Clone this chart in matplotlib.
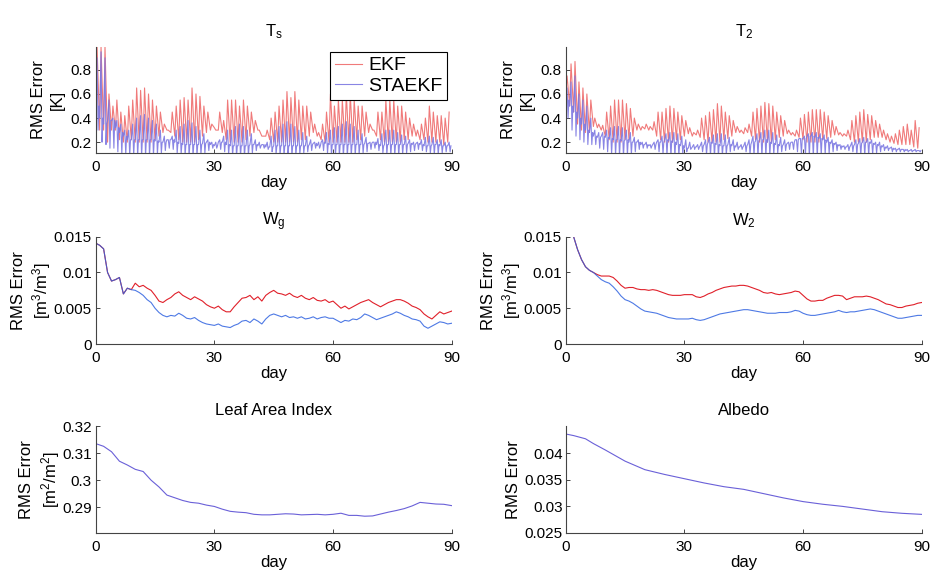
import numpy as np
import matplotlib
matplotlib.use('Agg')
import matplotlib.pyplot as plt

plt.rcParams['font.family'] = ['Liberation Sans', 'DejaVu Sans']
plt.rcParams['mathtext.default'] = 'regular'

# ---- T_s : daily values (days 0..89) ----
ts_ekf_base = [0.55, 0.30, 0.30, 0.20, 0.30, 0.30, 0.22, 0.20, 0.20, 0.22,
               0.20, 0.20, 0.20, 0.20, 0.20, 0.22, 0.25, 0.28, 0.30, 0.28,
               0.25, 0.22, 0.20, 0.20, 0.20, 0.20, 0.22, 0.25, 0.28, 0.30,
               0.32, 0.30, 0.28, 0.22, 0.20, 0.20, 0.20, 0.20, 0.22, 0.25,
               0.28, 0.30, 0.25, 0.25, 0.22, 0.20, 0.20, 0.20, 0.20, 0.20,
               0.20, 0.20, 0.22, 0.22, 0.25, 0.28, 0.25, 0.22, 0.20, 0.20,
               0.20, 0.20, 0.20, 0.20, 0.20, 0.20, 0.22, 0.22, 0.25, 0.28,
               0.30, 0.25, 0.22, 0.20, 0.20, 0.20, 0.20, 0.20, 0.22, 0.22,
               0.25, 0.25, 0.22, 0.22, 0.20, 0.20, 0.20, 0.20, 0.18, 0.20]
ts_ekf_peak = [0.99, 0.99, 0.99, 0.60, 0.50, 0.55, 0.45, 0.42, 0.50, 0.55,
               0.65, 0.63, 0.65, 0.60, 0.55, 0.50, 0.45, 0.35, 0.30, 0.45,
               0.50, 0.55, 0.57, 0.55, 0.65, 0.60, 0.58, 0.50, 0.45, 0.35,
               0.30, 0.45, 0.38, 0.55, 0.55, 0.55, 0.50, 0.55, 0.50, 0.45,
               0.38, 0.30, 0.25, 0.30, 0.40, 0.45, 0.50, 0.55, 0.62, 0.57,
               0.62, 0.55, 0.50, 0.50, 0.45, 0.35, 0.28, 0.35, 0.45, 0.60,
               0.50, 0.55, 0.55, 0.60, 0.60, 0.55, 0.50, 0.50, 0.45, 0.35,
               0.30, 0.45, 0.45, 0.55, 0.55, 0.55, 0.50, 0.50, 0.45, 0.40,
               0.35, 0.30, 0.35, 0.40, 0.50, 0.45, 0.42, 0.42, 0.40, 0.45]
ts_sta_base = [0.50, 0.40, 0.35, 0.38, 0.38, 0.32, 0.28, 0.25, 0.22, 0.22,
               0.22, 0.22, 0.22, 0.22, 0.22, 0.21, 0.20, 0.20, 0.22, 0.22,
               0.20, 0.19, 0.18, 0.18, 0.18, 0.18, 0.18, 0.19, 0.20, 0.18,
               0.17, 0.20, 0.20, 0.18, 0.17, 0.17, 0.17, 0.17, 0.17, 0.18,
               0.18, 0.17, 0.18, 0.16, 0.16, 0.17, 0.17, 0.17, 0.17, 0.17,
               0.17, 0.17, 0.17, 0.17, 0.18, 0.19, 0.17, 0.20, 0.19, 0.18,
               0.18, 0.18, 0.18, 0.18, 0.18, 0.18, 0.18, 0.18, 0.19, 0.19,
               0.20, 0.18, 0.17, 0.18, 0.18, 0.18, 0.18, 0.18, 0.18, 0.19,
               0.18, 0.19, 0.18, 0.17, 0.17, 0.18, 0.18, 0.17, 0.17, 0.17]
ts_sta_peak = [0.90, 0.95, 0.90, 0.55, 0.40, 0.38, 0.35, 0.30, 0.30, 0.35,
               0.40, 0.42, 0.43, 0.40, 0.38, 0.35, 0.30, 0.25, 0.22, 0.25,
               0.30, 0.33, 0.35, 0.38, 0.36, 0.33, 0.30, 0.27, 0.22, 0.20,
               0.20, 0.22, 0.25, 0.30, 0.30, 0.33, 0.35, 0.33, 0.30, 0.27,
               0.22, 0.20, 0.18, 0.20, 0.25, 0.30, 0.33, 0.35, 0.37, 0.35,
               0.33, 0.30, 0.28, 0.25, 0.22, 0.20, 0.20, 0.22, 0.28, 0.30,
               0.32, 0.33, 0.35, 0.37, 0.35, 0.33, 0.30, 0.27, 0.24, 0.20,
               0.20, 0.23, 0.27, 0.30, 0.30, 0.30, 0.28, 0.26, 0.25, 0.22,
               0.20, 0.20, 0.22, 0.24, 0.25, 0.24, 0.22, 0.22, 0.20, 0.20]
ts_sta_trough = [0.30, 0.20, 0.18, 0.15, 0.15, 0.12, 0.10, 0.10, 0.09, 0.09,
                 0.08, 0.08, 0.08, 0.08, 0.09, 0.10, 0.11, 0.13, 0.15, 0.14,
                 0.11, 0.10, 0.09, 0.08, 0.08, 0.09, 0.10, 0.11, 0.13, 0.15,
                 0.15, 0.14, 0.12, 0.10, 0.09, 0.08, 0.08, 0.08, 0.09, 0.11,
                 0.13, 0.15, 0.15, 0.14, 0.12, 0.10, 0.09, 0.08, 0.08, 0.08,
                 0.09, 0.10, 0.11, 0.12, 0.13, 0.15, 0.15, 0.13, 0.11, 0.09,
                 0.09, 0.08, 0.08, 0.08, 0.08, 0.09, 0.10, 0.11, 0.12, 0.14,
                 0.15, 0.13, 0.11, 0.10, 0.09, 0.09, 0.09, 0.10, 0.11, 0.12,
                 0.13, 0.14, 0.13, 0.12, 0.11, 0.10, 0.10, 0.11, 0.12, 0.12]

# ---- T_2 ----
t2_ekf_base = [0.60, 0.50, 0.45, 0.35, 0.30, 0.28, 0.28, 0.33, 0.32, 0.30,
               0.25, 0.22, 0.20, 0.20, 0.20, 0.22, 0.22, 0.25, 0.30, 0.30,
               0.31, 0.30, 0.30, 0.25, 0.22, 0.20, 0.20, 0.20, 0.22, 0.22,
               0.25, 0.27, 0.25, 0.26, 0.24, 0.22, 0.20, 0.20, 0.20, 0.20,
               0.22, 0.23, 0.25, 0.28, 0.28, 0.27, 0.28, 0.25, 0.22, 0.20,
               0.20, 0.20, 0.20, 0.22, 0.24, 0.25, 0.27, 0.26, 0.25, 0.24,
               0.22, 0.20, 0.20, 0.20, 0.20, 0.22, 0.23, 0.24, 0.26, 0.26,
               0.25, 0.25, 0.22, 0.20, 0.20, 0.20, 0.20, 0.22, 0.24, 0.24,
               0.24, 0.22, 0.20, 0.19, 0.18, 0.18, 0.18, 0.18, 0.16, 0.15]
t2_ekf_peak = [0.75, 0.85, 0.87, 0.70, 0.65, 0.60, 0.55, 0.40, 0.35, 0.34,
               0.45, 0.50, 0.55, 0.55, 0.55, 0.52, 0.48, 0.40, 0.35, 0.33,
               0.35, 0.33, 0.37, 0.45, 0.45, 0.48, 0.50, 0.48, 0.45, 0.42,
               0.38, 0.32, 0.28, 0.30, 0.40, 0.42, 0.45, 0.47, 0.52, 0.50,
               0.45, 0.42, 0.38, 0.33, 0.30, 0.32, 0.35, 0.45, 0.48, 0.50,
               0.53, 0.52, 0.50, 0.45, 0.42, 0.38, 0.30, 0.28, 0.30, 0.40,
               0.43, 0.45, 0.47, 0.47, 0.47, 0.45, 0.42, 0.38, 0.33, 0.28,
               0.27, 0.30, 0.38, 0.42, 0.45, 0.47, 0.43, 0.42, 0.38, 0.35,
               0.30, 0.27, 0.25, 0.27, 0.30, 0.33, 0.35, 0.30, 0.38, 0.32]
t2_sta_base = [0.55, 0.50, 0.45, 0.40, 0.35, 0.30, 0.28, 0.25, 0.24, 0.25,
               0.24, 0.23, 0.22, 0.22, 0.21, 0.22, 0.20, 0.20, 0.20, 0.18,
               0.18, 0.17, 0.18, 0.20, 0.20, 0.22, 0.21, 0.20, 0.18, 0.17,
               0.15, 0.15, 0.16, 0.16, 0.17, 0.18, 0.20, 0.19, 0.18, 0.17,
               0.17, 0.18, 0.17, 0.16, 0.16, 0.17, 0.18, 0.20, 0.21, 0.22,
               0.22, 0.20, 0.19, 0.18, 0.17, 0.18, 0.19, 0.20, 0.22, 0.23,
               0.23, 0.25, 0.25, 0.24, 0.23, 0.22, 0.20, 0.19, 0.18, 0.17,
               0.16, 0.16, 0.17, 0.18, 0.19, 0.20, 0.20, 0.19, 0.18, 0.17,
               0.16, 0.15, 0.15, 0.14, 0.14, 0.14, 0.13, 0.13, 0.13, 0.13]
t2_sta_peak = [0.65, 0.70, 0.75, 0.60, 0.55, 0.50, 0.40, 0.30, 0.28, 0.28,
               0.30, 0.32, 0.33, 0.33, 0.32, 0.30, 0.28, 0.24, 0.22, 0.20,
               0.20, 0.18, 0.20, 0.22, 0.25, 0.27, 0.28, 0.28, 0.27, 0.25,
               0.22, 0.20, 0.18, 0.18, 0.20, 0.22, 0.24, 0.26, 0.27, 0.27,
               0.26, 0.24, 0.22, 0.20, 0.18, 0.20, 0.22, 0.25, 0.27, 0.28,
               0.30, 0.30, 0.28, 0.26, 0.24, 0.22, 0.20, 0.20, 0.22, 0.23,
               0.25, 0.27, 0.28, 0.28, 0.27, 0.26, 0.24, 0.22, 0.20, 0.18,
               0.17, 0.18, 0.20, 0.22, 0.23, 0.24, 0.23, 0.22, 0.20, 0.20,
               0.18, 0.17, 0.16, 0.15, 0.15, 0.14, 0.14, 0.14, 0.14, 0.13]
t2_sta_trough = [0.40, 0.30, 0.25, 0.22, 0.20, 0.18, 0.18, 0.18, 0.15, 0.14,
                 0.12, 0.10, 0.09, 0.08, 0.08, 0.09, 0.10, 0.12, 0.14, 0.15,
                 0.15, 0.15, 0.14, 0.12, 0.10, 0.09, 0.08, 0.08, 0.09, 0.10,
                 0.12, 0.14, 0.14, 0.14, 0.12, 0.10, 0.09, 0.08, 0.08, 0.09,
                 0.10, 0.12, 0.13, 0.14, 0.14, 0.12, 0.10, 0.09, 0.08, 0.08,
                 0.08, 0.09, 0.10, 0.11, 0.12, 0.13, 0.14, 0.14, 0.12, 0.10,
                 0.09, 0.08, 0.08, 0.08, 0.09, 0.10, 0.11, 0.12, 0.13, 0.14,
                 0.14, 0.13, 0.12, 0.10, 0.09, 0.09, 0.09, 0.10, 0.11, 0.12,
                 0.13, 0.13, 0.12, 0.12, 0.12, 0.12, 0.12, 0.12, 0.12, 0.12]

# ---- W_g (days 0..90) ----
wg_day = list(range(0, 91))
wg_ekf = [0.0141, 0.0138, 0.0133, 0.0100, 0.0088, 0.0090, 0.0093, 0.0070, 0.0078, 0.0076,
          0.0085, 0.0080, 0.0082, 0.0078, 0.0075, 0.0068, 0.0060, 0.0058, 0.0062, 0.0065,
          0.0070, 0.0073, 0.0068, 0.0065, 0.0062, 0.0066, 0.0063, 0.0060, 0.0055, 0.0052,
          0.0050, 0.0053, 0.0048, 0.0045, 0.0045, 0.0052, 0.0058, 0.0064, 0.0065, 0.0068,
          0.0062, 0.0066, 0.0060, 0.0068, 0.0072, 0.0075, 0.0071, 0.0070, 0.0068, 0.0071,
          0.0067, 0.0065, 0.0068, 0.0064, 0.0062, 0.0065, 0.0061, 0.0060, 0.0062, 0.0058,
          0.0060, 0.0055, 0.0050, 0.0053, 0.0049, 0.0052, 0.0055, 0.0058, 0.0060, 0.0062,
          0.0058, 0.0055, 0.0052, 0.0055, 0.0058, 0.0060, 0.0062, 0.0062, 0.0060, 0.0057,
          0.0053, 0.0051, 0.0048, 0.0042, 0.0038, 0.0035, 0.0040, 0.0045, 0.0042, 0.0044, 0.0046]
wg_sta = [0.0141, 0.0138, 0.0133, 0.0100, 0.0088, 0.0090, 0.0093, 0.0070, 0.0078, 0.0076,
          0.0075, 0.0072, 0.0068, 0.0062, 0.0058, 0.0050, 0.0044, 0.0040, 0.0038, 0.0040,
          0.0039, 0.0043, 0.0040, 0.0036, 0.0035, 0.0037, 0.0033, 0.0030, 0.0028, 0.0027,
          0.0026, 0.0028, 0.0025, 0.0024, 0.0023, 0.0026, 0.0028, 0.0032, 0.0033, 0.0030,
          0.0035, 0.0032, 0.0028, 0.0035, 0.0040, 0.0042, 0.0040, 0.0038, 0.0040, 0.0037,
          0.0038, 0.0036, 0.0038, 0.0035, 0.0036, 0.0038, 0.0035, 0.0037, 0.0038, 0.0036,
          0.0036, 0.0033, 0.0030, 0.0033, 0.0032, 0.0035, 0.0034, 0.0037, 0.0042, 0.0040,
          0.0037, 0.0034, 0.0036, 0.0038, 0.0040, 0.0042, 0.0045, 0.0043, 0.0040, 0.0038,
          0.0035, 0.0034, 0.0032, 0.0025, 0.0022, 0.0025, 0.0028, 0.0031, 0.0030, 0.0028, 0.0029]

# ---- W_2 (days 2..90) ----
w2_day = list(range(2, 91))
w2_ekf = [0.0150, 0.0132, 0.0118, 0.0108, 0.0103, 0.0100, 0.0097, 0.0095,
          0.0095, 0.0095, 0.0093, 0.0088, 0.0082, 0.0078, 0.0079, 0.0079, 0.0077, 0.0076,
          0.0076, 0.0075, 0.0076, 0.0075, 0.0073, 0.0071, 0.0069, 0.0068, 0.0068, 0.0068,
          0.0069, 0.0069, 0.0069, 0.0066, 0.0065, 0.0067, 0.0070, 0.0072, 0.0075, 0.0077,
          0.0079, 0.0080, 0.0081, 0.0081, 0.0082, 0.0082, 0.0081, 0.0079, 0.0077, 0.0075,
          0.0072, 0.0071, 0.0072, 0.0070, 0.0069, 0.0070, 0.0071, 0.0072, 0.0074, 0.0073,
          0.0068, 0.0063, 0.0060, 0.0060, 0.0061, 0.0061, 0.0064, 0.0066, 0.0068, 0.0068,
          0.0067, 0.0062, 0.0064, 0.0066, 0.0066, 0.0066, 0.0067, 0.0066, 0.0064, 0.0062,
          0.0059, 0.0056, 0.0055, 0.0053, 0.0051, 0.0051, 0.0053, 0.0054, 0.0055, 0.0057, 0.0058]
w2_sta = [0.0150, 0.0132, 0.0118, 0.0108, 0.0103, 0.0100, 0.0095, 0.0090,
          0.0087, 0.0085, 0.0080, 0.0074, 0.0067, 0.0062, 0.0060, 0.0057, 0.0053, 0.0049,
          0.0046, 0.0045, 0.0044, 0.0043, 0.0041, 0.0039, 0.0037, 0.0036, 0.0035, 0.0035,
          0.0035, 0.0035, 0.0036, 0.0034, 0.0033, 0.0034, 0.0036, 0.0038, 0.0040, 0.0042,
          0.0043, 0.0044, 0.0045, 0.0046, 0.0047, 0.0048, 0.0048, 0.0047, 0.0046, 0.0045,
          0.0044, 0.0043, 0.0043, 0.0043, 0.0044, 0.0044, 0.0044, 0.0045, 0.0047, 0.0046,
          0.0043, 0.0041, 0.0040, 0.0040, 0.0041, 0.0042, 0.0043, 0.0044, 0.0045, 0.0047,
          0.0045, 0.0044, 0.0045, 0.0045, 0.0046, 0.0047, 0.0048, 0.0049, 0.0048, 0.0046,
          0.0044, 0.0042, 0.0040, 0.0038, 0.0036, 0.0036, 0.0037, 0.0038, 0.0039, 0.0040, 0.0040]

# ---- Leaf Area Index (every 2 days) ----
lai_day = list(range(0, 91, 2))
lai_err = [0.3135, 0.3125, 0.3105, 0.3070, 0.3056, 0.3040, 0.3032, 0.3000, 0.2975, 0.2945,
           0.2935, 0.2925, 0.2918, 0.2915, 0.2908, 0.2903, 0.2893, 0.2885, 0.2882, 0.2880,
           0.2874, 0.2872, 0.2872, 0.2874, 0.2876, 0.2875, 0.2872, 0.2873, 0.2874, 0.2872,
           0.2874, 0.2878, 0.2870, 0.2870, 0.2867, 0.2868, 0.2875, 0.2882, 0.2888, 0.2895,
           0.2905, 0.2918, 0.2915, 0.2912, 0.2911, 0.2906]

# ---- Albedo ----
alb_day = [0, 2, 5, 7, 10, 15, 20, 25, 30, 35, 40, 45, 50, 55, 60, 65, 70, 75, 80, 85, 90]
alb_err = [0.0436, 0.0433, 0.0427, 0.0418, 0.0406, 0.0385, 0.0369, 0.0360, 0.0352, 0.0344,
           0.0337, 0.0332, 0.0324, 0.0316, 0.0309, 0.0304, 0.0300, 0.0295, 0.0290, 0.0287, 0.0285]

x_ticks = [0, 30, 60, 90]


def daily_trace(offsets, *cols):
    # spread the per-day readings (base / peak / trough) across each day
    n = len(cols[0])
    x = (np.arange(n)[:, None] + np.array(offsets)[None, :]).ravel()
    y = np.column_stack(cols).ravel()
    return x, y


def style_axes(ax, title, ylabel, yticks, ylabels, ylim, ylab_x, ypad):
    for side in ['top', 'right']:
        ax.spines[side].set_visible(False)
    for side in ['left', 'bottom']:
        ax.spines[side].set_color('#444444')
        ax.spines[side].set_linewidth(0.8)
    ax.set_xlim(0, 90)
    ax.set_ylim(*ylim)
    ax.set_xticks(x_ticks)
    ax.set_xticklabels([str(t) for t in x_ticks])
    ax.set_yticks(yticks)
    ax.set_yticklabels(ylabels)
    ax.tick_params(direction='in', length=3, width=0.7, color='#444444', labelsize=11)
    ax.tick_params(axis='y', pad=ypad)
    ax.tick_params(axis='x', pad=5)
    ax.set_xlabel('day', fontsize=12, labelpad=1)
    ax.set_ylabel(ylabel, fontsize=12, va='center', linespacing=1.25)
    ax.yaxis.set_label_coords(ylab_x, 0.5)
    ax.set_title(title, fontsize=12, pad=8)


fig = plt.figure(figsize=(9.31, 5.78), dpi=100)
W, H = 931.0, 578.0
col_left = [95.7 / W, 565.7 / W]
col_w = 356.0 / W
rows = [(1 - 153 / H, 106 / H), (1 - 344 / H, 107.3 / H), (1 - 533 / H, 107 / H)]

ekf_light, sta_light = '#f07a7a', '#7c78e2'
ekf_dark, sta_dark = '#e0202a', '#2f62e0'
single = '#6a60d8'

# T_s
ax = fig.add_axes([col_left[0], rows[0][0], col_w, rows[0][1]])
x, y = daily_trace([0.0, 0.35], ts_ekf_base, ts_ekf_peak)
ax.plot(x, y, color=ekf_light, lw=0.8, label='EKF')
x, y = daily_trace([0.0, 0.35, 0.6, 0.8], ts_sta_base, ts_sta_peak, ts_sta_trough, ts_sta_base)
ax.plot(x, y, color=sta_light, lw=0.8, alpha=0.9, label='STAEKF')
style_axes(ax, 'T$_s$', 'RMS Error\n[K]', [0.2, 0.4, 0.6, 0.8],
           ['0.2', '0.4', '0.6', '0.8'], (0.11, 0.99), -0.134, 3)
leg = ax.legend(loc='upper right', bbox_to_anchor=(0.987, 0.953), fontsize=14,
                handlelength=1.4, fancybox=False, framealpha=1, borderpad=0.25,
                labelspacing=0.15, handletextpad=0.3, borderaxespad=0)
leg.get_frame().set_edgecolor('black')
leg.get_frame().set_linewidth(0.8)

# T_2
ax = fig.add_axes([col_left[1], rows[0][0], col_w, rows[0][1]])
x, y = daily_trace([0.0, 0.35], t2_ekf_base, t2_ekf_peak)
ax.plot(x, y, color=ekf_light, lw=0.8)
x, y = daily_trace([0.0, 0.35, 0.6, 0.8], t2_sta_base, t2_sta_peak, t2_sta_trough, t2_sta_base)
ax.plot(x, y, color=sta_light, lw=0.8, alpha=0.9)
style_axes(ax, 'T$_2$', 'RMS Error\n[K]', [0.2, 0.4, 0.6, 0.8],
           ['0.2', '0.4', '0.6', '0.8'], (0.11, 0.99), -0.134, 3)

# W_g
wt = [0, 0.005, 0.01, 0.015]
wl = ['0', '0.005', '0.01', '0.015']
ax = fig.add_axes([col_left[0], rows[1][0], col_w, rows[1][1]])
ax.plot(wg_day, wg_ekf, color=ekf_dark, lw=0.8)
ax.plot(wg_day, wg_sta, color=sta_dark, lw=0.8, alpha=0.85)
style_axes(ax, 'W$_g$', 'RMS Error\n[m$^3$/m$^3$]', wt, wl, (0, 0.015), -0.18, 3)

# W_2
ax = fig.add_axes([col_left[1], rows[1][0], col_w, rows[1][1]])
ax.plot(w2_day, w2_ekf, color=ekf_dark, lw=0.8)
ax.plot(w2_day, w2_sta, color=sta_dark, lw=0.8, alpha=0.85)
style_axes(ax, 'W$_2$', 'RMS Error\n[m$^3$/m$^3$]', wt, wl, (0, 0.015), -0.18, 3)

# Leaf Area Index
ax = fig.add_axes([col_left[0], rows[2][0], col_w, rows[2][1]])
ax.plot(lai_day, lai_err, color=single, lw=0.8)
style_axes(ax, 'Leaf Area Index', 'RMS Error\n[m$^2$/m$^2$]', [0.29, 0.30, 0.31, 0.32],
           ['0.29', '0.3', '0.31', '0.32'], (0.2805, 0.32), -0.155, 3)

# Albedo
ax = fig.add_axes([col_left[1], rows[2][0], col_w, rows[2][1]])
ax.plot(alb_day, alb_err, color=single, lw=0.8)
style_axes(ax, 'Albedo', 'RMS Error', [0.025, 0.03, 0.035, 0.04],
           ['0.025', '0.03', '0.035', '0.04'], (0.025, 0.0451), -0.148, 2)

fig.savefig('out.png', dpi=100)
